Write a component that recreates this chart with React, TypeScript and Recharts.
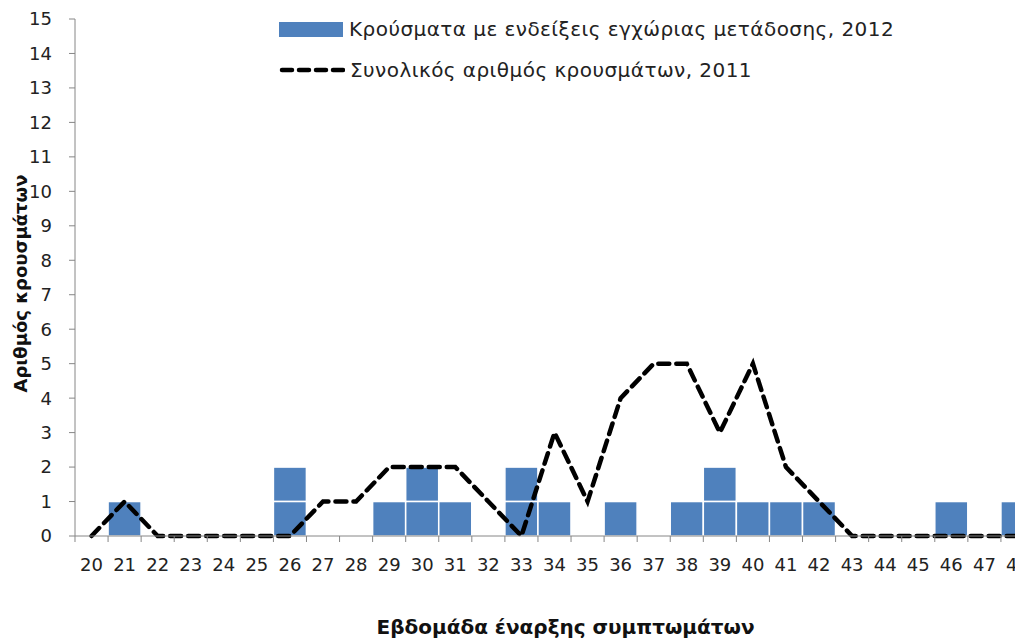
import { Bar, ComposedChart, Legend, Line, XAxis, YAxis } from "recharts"

// εβδομάδες 20–48, κρούσματα 2012 (μπάρες) και σύνολο 2011 (γραμμή)
const weeks = ["20", "21", "22", "23", "24", "25", "26", "27", "28", "29", "30", "31", "32", "33", "34", "35", "36", "37", "38", "39", "40", "41", "42", "43", "44", "45", "46", "47", "48"]
const local2012 = [0, 1, 0, 0, 0, 0, 2, 0, 0, 1, 2, 1, 0, 2, 1, 0, 1, 0, 1, 2, 1, 1, 1, 0, 0, 0, 1, 0, 1]
const total2011 = [0, 1, 0, 0, 0, 0, 0, 1, 1, 2, 2, 2, 1, 0, 3, 1, 4, 5, 5, 3, 5, 2, 1, 0, 0, 0, 0, 0, 0]
const yTicks = [0, 1, 2, 3, 4, 5, 6, 7, 8, 9, 10, 11, 12, 13, 14, 15]

const BAR_LABEL = "Κρούσματα με ενδείξεις εγχώριας μετάδοσης, 2012"
const LINE_LABEL = "Συνολικός αριθμός κρουσμάτων, 2011"

const data = weeks.map((week, i) => ({ week, local2012: local2012[i], total2011: total2011[i] }))

const FONT = "'DejaVu Sans', sans-serif"
const BLUE = "#4F81BD"
const AXIS = "#868686"
const BAND = 33.07

// κάθε κρούσμα σαν ξεχωριστό τετράγωνο, όπως στο Excel
function UnitBar(props: any) {
  const { x, y, width, height, value } = props
  const n = Array.isArray(value) ? value[1] - value[0] : value
  if (!n || height <= 0) return null
  const unit = height / n
  return (
    <g>
      {Array.from({ length: n }, (_, i) => (
        <rect key={i} x={x} y={y + i * unit} width={width} height={unit} fill={BLUE} stroke="#fff" strokeWidth={1.5} />
      ))}
    </g>
  )
}

function WeekTick(props: any) {
  const { x, y, payload } = props
  return (
    <g>
      <line x1={x - BAND / 2} x2={x - BAND / 2} y1={y} y2={y + 6} stroke={AXIS} />
      <text x={x} y={y + 35} textAnchor="middle" fontSize={18} fill="#222" fontFamily={FONT}>
        {payload.value}
      </text>
    </g>
  )
}

function YTitle(props: any) {
  const { viewBox } = props
  const cy = viewBox.y + viewBox.height / 2 + 6
  return (
    <text x={12} y={cy} transform={`rotate(-90 12 ${cy})`} textAnchor="middle" dominantBaseline="central" fontSize={18} fontWeight={700} fill="#111" fontFamily={FONT}>
      Αριθμός κρουσμάτων
    </text>
  )
}

function XTitle(props: any) {
  const { viewBox } = props
  const cx = viewBox.x + viewBox.width / 2 + 11
  return (
    <text x={cx} y={626} textAnchor="middle" fontSize={20} fontWeight={700} fill="#111" fontFamily={FONT}>
      Εβδομάδα έναρξης συμπτωμάτων
    </text>
  )
}

function ChartLegend() {
  const row = { display: "flex", alignItems: "center", height: 26, whiteSpace: "nowrap" as const }
  return (
    <div style={{ fontFamily: FONT, fontSize: 20, letterSpacing: 0.45, color: "#222" }}>
      <div style={row}>
        <span style={{ display: "inline-block", width: 64, height: 15, background: BLUE, marginRight: 6 }} />
        {BAR_LABEL}
      </div>
      <div style={{ ...row, marginTop: 15 }}>
        <svg width={66} height={8} style={{ marginRight: 5 }}>
          <line x1={3} x2={64} y1={4} y2={4} stroke="#000" strokeWidth={4.5} strokeDasharray="10 7" strokeLinecap="round" />
        </svg>
        {LINE_LABEL}
      </div>
    </div>
  )
}

export default function App() {
  return (
    <div style={{ width: 1015, height: 631, overflow: "hidden" }}>
      <ComposedChart width={1026} height={631} data={data} margin={{ top: 11, right: 0, left: 0, bottom: 0 }} barCategoryGap={0} barGap={0}>
        <XAxis dataKey="week" interval={0} stroke={AXIS} tickLine={false} tickSize={0} tickMargin={0} height={103} tick={<WeekTick />} label={<XTitle />} />
        <YAxis domain={[0, 15]} ticks={yTicks} interval={0} width={67} stroke={AXIS} tickSize={6} tickMargin={17} tick={{ fontSize: 18, fill: "#222", fontFamily: FONT }} label={<YTitle />} />
        <Legend layout="vertical" align="center" verticalAlign="middle" wrapperStyle={{ top: 8, left: 271, width: "auto" }} content={<ChartLegend />} />
        <Bar dataKey="local2012" name={BAR_LABEL} fill={BLUE} shape={<UnitBar />} isAnimationActive={false} />
        <Line dataKey="total2011" name={LINE_LABEL} type="linear" stroke="#000" strokeWidth={4.5} strokeDasharray="11 7" strokeLinecap="round" dot={false} activeDot={false} isAnimationActive={false} />
      </ComposedChart>
    </div>
  )
}
